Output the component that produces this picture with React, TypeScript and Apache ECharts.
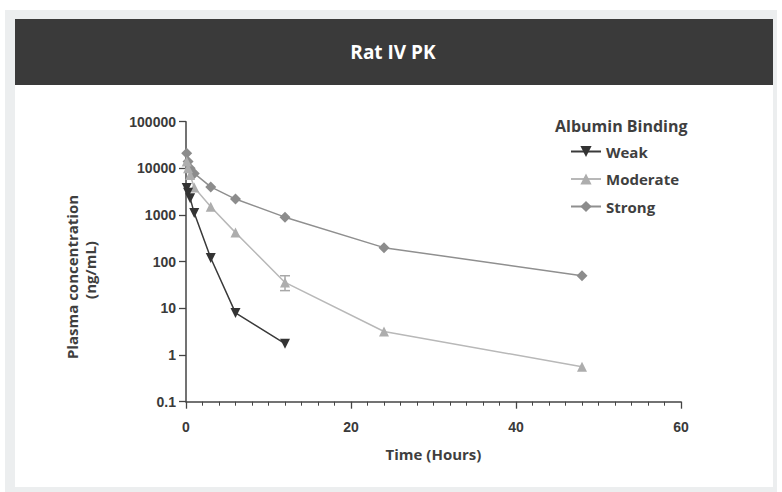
import React, { useEffect, useRef } from "react";
import * as echarts from "echarts";

const titleText = "Rat IV PK";
const legendTitle = "Albumin Binding";
const xAxisName = "Time (Hours)";
const yAxisName1 = "Plasma concentration";
const yAxisName2 = "(ng/mL)";

const times = [0.083, 0.25, 0.5, 1, 3, 6, 12, 24, 48];
const weak = [3800, 3000, 2300, 1100, 120, 8, 1.75];
const moderate = [14000, 10000, 7200, 3900, 1500, 420, 36, 3.2, 0.56];
const strong = [21000, 14000, 10000, 7800, 4000, 2200, 900, 200, 50];
// [time, low, high]
const moderateErr = [[12, 24, 50]];

const seriesNames = ["Weak", "Moderate", "Strong"];

const pair = (vals: number[]) => vals.map((v, i) => [times[i], v]);

export default function App() {
  const ref = useRef<HTMLDivElement>(null);
  useEffect(() => {
    if (!ref.current) return;
    const chart = echarts.init(ref.current, null, { renderer: "svg" });
    const tickFont = { fontFamily: "Liberation Sans", fontWeight: "bold" as const, fontSize: 14, color: "#3a3a3a" };
    chart.setOption({
      animation: false,
      backgroundColor: "#ffffff",
      graphic: [
        { type: "rect", shape: { x: 5, y: 10, width: 772, height: 482 }, style: { fill: "#eceeef" }, z: -10 },
        { type: "rect", shape: { x: 15, y: 19, width: 758, height: 66 }, style: { fill: "#3a3a3a" }, z: -9 },
        { type: "rect", shape: { x: 15, y: 85, width: 758, height: 402 }, style: { fill: "#ffffff" }, z: -9 },
        {
          type: "text", x: 393, y: 52,
          style: { text: titleText, fill: "#ffffff", font: "bold 19px 'Open Sans'", textAlign: "center", textVerticalAlign: "middle" },
        },
        {
          type: "text", x: 555, y: 126,
          style: { text: legendTitle, fill: "#3f3f3f", font: "bold 16px 'Open Sans'", textAlign: "left", textVerticalAlign: "middle" },
        },
        {
          type: "text", x: 72, y: 277, rotation: Math.PI / 2,
          style: { text: yAxisName1, fill: "#3f3f3f", font: "bold 15px 'Open Sans'", textAlign: "center", textVerticalAlign: "middle" },
        },
        {
          type: "text", x: 90, y: 270, rotation: Math.PI / 2,
          style: { text: yAxisName2, fill: "#3f3f3f", font: "bold 15px 'Open Sans'", textAlign: "center", textVerticalAlign: "middle" },
        },
      ],
      grid: { left: 186, right: 101, top: 121.7, bottom: 90.3, containLabel: false },
      legend: {
        orient: "vertical",
        left: 565,
        top: 139,
        itemGap: 12.5,
        itemWidth: 30,
        itemHeight: 14,
        data: seriesNames,
        textStyle: { fontFamily: "Open Sans", fontWeight: "bold", fontSize: 15, color: "#3f3f3f" },
      },
      xAxis: {
        type: "value",
        min: 0,
        max: 60,
        interval: 20,
        name: xAxisName,
        nameLocation: "middle",
        nameGap: 45,
        nameTextStyle: { fontFamily: "Open Sans", fontWeight: "bold", fontSize: 15, color: "#3f3f3f" },
        axisLine: { show: true, lineStyle: { color: "#444", width: 1.5 } },
        axisTick: { show: true, length: 7, lineStyle: { color: "#444", width: 1.3 } },
        minorTick: { show: true, splitNumber: 10, length: 4, lineStyle: { color: "#444", width: 1 } },
        splitLine: { show: false },
        axisLabel: { ...tickFont, margin: 18 },
      },
      yAxis: {
        type: "log",
        logBase: 10,
        min: 0.1,
        max: 100000,
        axisLine: { show: true, lineStyle: { color: "#444", width: 1.5 } },
        axisTick: { show: true, length: 7, lineStyle: { color: "#444", width: 1.3 } },
        splitLine: { show: false },
        minorTick: { show: false },
        axisLabel: { ...tickFont, margin: 10, formatter: (v: number) => String(v) },
      },
      series: [
        {
          name: "Weak",
          type: "line",
          data: pair(weak),
          symbol: "triangle",
          symbolRotate: 180,
          symbolSize: 10,
          itemStyle: { color: "#333333" },
          lineStyle: { color: "#3a3a3a", width: 1.5 },
          z: 4,
        },
        {
          name: "Moderate",
          type: "line",
          data: pair(moderate),
          symbol: "triangle",
          symbolSize: 10,
          itemStyle: { color: "#adadad" },
          lineStyle: { color: "#b8b8b8", width: 1.5 },
          z: 3,
        },
        {
          name: "Strong",
          type: "line",
          data: pair(strong),
          symbol: "diamond",
          symbolSize: 11,
          itemStyle: { color: "#8c8c8c" },
          lineStyle: { color: "#8f8f8f", width: 1.5 },
          z: 2,
        },
        {
          name: "ModerateErr",
          type: "custom",
          data: moderateErr,
          encode: { x: 0, y: [1, 2] },
          renderItem: (params: any, api: any) => {
            const t = api.value(0);
            const lo = api.coord([t, api.value(1)]);
            const hi = api.coord([t, api.value(2)]);
            const w = 5;
            const style = { stroke: "#a8a8a8", lineWidth: 1.5 };
            return {
              type: "group",
              children: [
                { type: "line", shape: { x1: lo[0], y1: lo[1], x2: hi[0], y2: hi[1] }, style },
                { type: "line", shape: { x1: lo[0] - w, y1: lo[1], x2: lo[0] + w, y2: lo[1] }, style },
                { type: "line", shape: { x1: hi[0] - w, y1: hi[1], x2: hi[0] + w, y2: hi[1] }, style },
              ],
            };
          },
          z: 1,
        },
      ],
    });
    return () => chart.dispose();
  }, []);
  return <div ref={ref} style={{ position: "absolute", left: 0, top: 0, width: 782, height: 492 }} />;
}
